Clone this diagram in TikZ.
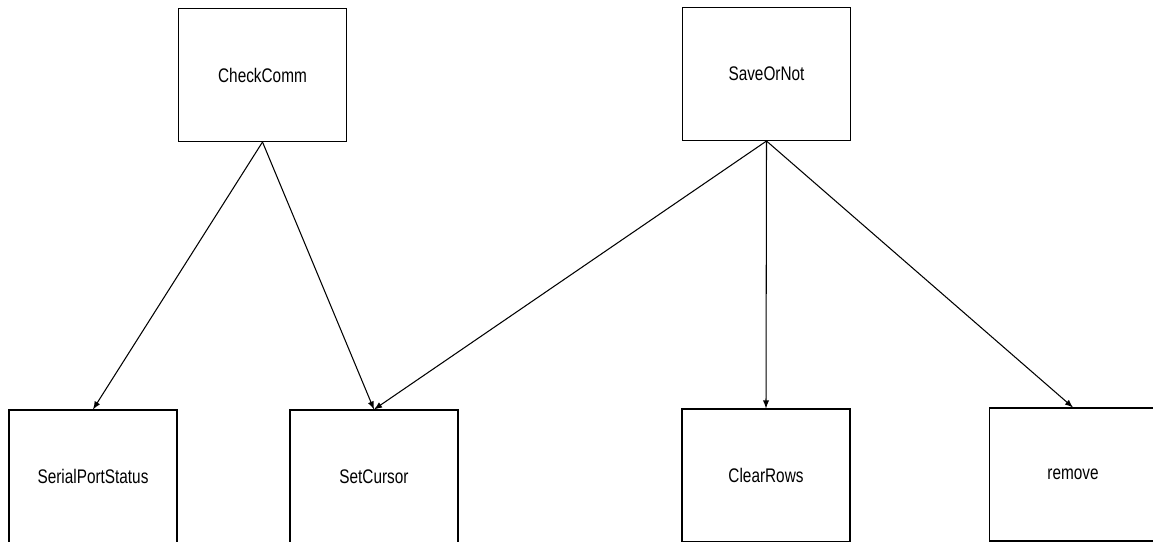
\documentclass[tikz,border=0pt]{standalone}
\usepackage{fontspec}
\setmainfont{Liberation Sans}[FakeStretch=0.78]
\usepackage{tikz}

\begin{document}
\begin{tikzpicture}[x=0.02cm,y=-0.02cm,>=latex]
\clip (0,0) rectangle (1153,541);
\tikzset{fnbox/.style={draw,line width=0.6pt,minimum width=3.36cm,minimum height=2.66cm,inner sep=0pt,font=\fontsize{11.2}{13}\selectfont}}
\node[fnbox] (checkcomm) at (262.5,75) {CheckComm};
\node[fnbox] (saveornot) at (766.5,74) {SaveOrNot};
\node[fnbox] (serial) at (93,476.5) {SerialPortStatus};
\node[fnbox] (setcursor) at (374,476.5) {SetCursor};
\node[fnbox] (clearrows) at (766,475.5) {ClearRows};
\node[fnbox] (remove) at (1073,474.5) {remove};
\draw[->,line width=0.6pt] (checkcomm.south)--(serial.north);
\draw[->,line width=0.6pt] (checkcomm.south)--(setcursor.north);
\draw[->,line width=0.6pt] (saveornot.south)--(setcursor.north);
\draw[->,line width=0.6pt] (saveornot.south)--(clearrows.north);
\draw[->,line width=0.6pt] (saveornot.south)--(remove.north);
\end{tikzpicture}
\end{document}
